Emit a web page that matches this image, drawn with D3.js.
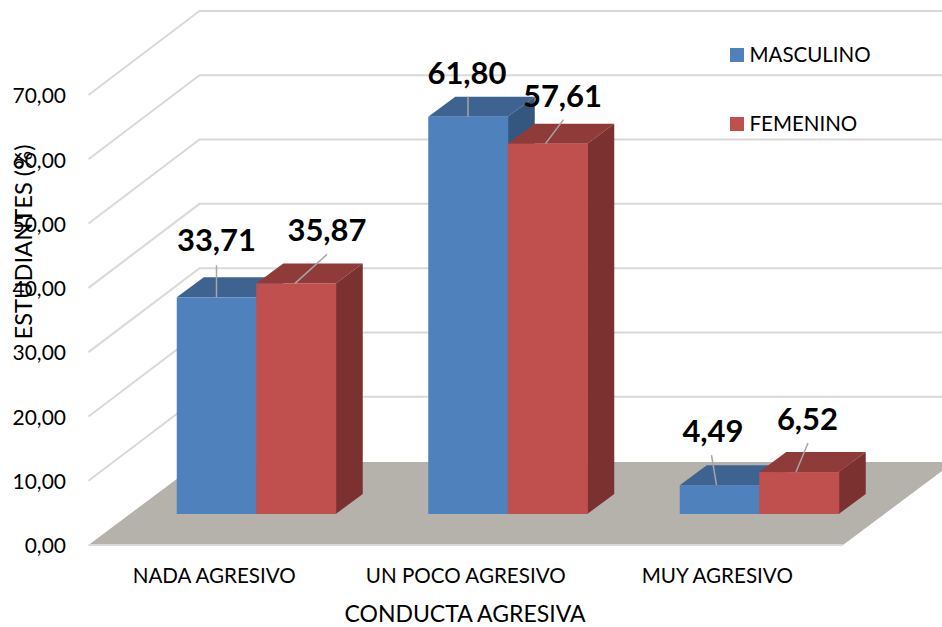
<!DOCTYPE html>
<html><head><meta charset="utf-8">
<script src="https://cdnjs.cloudflare.com/ajax/libs/d3/7.8.5/d3.min.js"></script>
<style>html,body{margin:0;padding:0;background:#fff}svg{display:block}text{font-family:Lato,"Open Sans",sans-serif;fill:#000}</style>
</head><body><svg id="c" width="942" height="627"></svg>
<script>
const categories = ["NADA AGRESIVO", "UN POCO AGRESIVO", "MUY AGRESIVO"];
const seriesNames = ["MASCULINO", "FEMENINO"];
const masculino = [33.71, 61.80, 4.49];
const femenino = [35.87, 57.61, 6.52];
const yTicks = [0, 10, 20, 30, 40, 50, 60, 70];
const xTitle = "CONDUCTA AGRESIVA";
const yTitle = "ESTUDIANTES (%)";

const frontFill = ["#4f81bd", "#c0504d"];
const topFill = ["#3f6391", "#8f3b39"];
const sideFill = ["#34577f", "#7b3130"];
const fmt = v => v.toFixed(2).replace(".", ",");

const svg = d3.select("#c");
const y = d3.scaleLinear().domain([0, 70]).range([545, 95]);
const x = d3.scaleBand().domain(categories).range([88.5, 843]);
const series = d3.scaleBand().domain(seriesNames).range([0, 159]);

// perspective offsets of the 3D box
const wall = {dx: 111, dy: -84};
const depth = {dx: 27, dy: -20};
const barShift = {dx: 42, dy: -31};
const floorY = y(0) + wall.dy + 1;

svg.append("polygon").attr("fill", "#b5b2ab")
  .attr("points", [[x.range()[0], y(0)], [x.range()[1], y(0)], [x.range()[1] + wall.dx, floorY], [x.range()[0] + wall.dx, floorY]].join(" "));

svg.append("g").selectAll("polyline").data(yTicks).join("polyline")
  .attr("fill", "none").attr("stroke", "#d9d9d9").attr("stroke-width", 2)
  .attr("points", d => [[x.range()[0], y(d)], [x.range()[0] + wall.dx, y(d) + wall.dy], [942, y(d) + wall.dy]].join(" "))
  .filter(d => d === 0).attr("points", d => [[x.range()[0], y(d)], [x.range()[1], y(d)]].join(" "));

// bars
const rows = [masculino, femenino];
const baseY = y(0) + barShift.dy;
const h = v => y(0) - y(v);
const bars = [];
rows.forEach((vals, s) => vals.forEach((v, c) => bars.push({s, c, v,
  x0: x(categories[c]) + x.bandwidth() / 2 + barShift.dx - series.range()[1] / 2 + series(seriesNames[s]),
  w: series.bandwidth(), top: baseY - h(v)})));

const gb = svg.append("g");
bars.forEach(b => {
  const g = gb.append("g");
  g.append("polygon").attr("fill", topFill[b.s]).attr("points",
    [[b.x0, b.top], [b.x0 + b.w, b.top], [b.x0 + b.w + depth.dx, b.top + depth.dy], [b.x0 + depth.dx, b.top + depth.dy]].join(" "));
  g.append("polygon").attr("fill", sideFill[b.s]).attr("points",
    [[b.x0 + b.w, b.top], [b.x0 + b.w + depth.dx, b.top + depth.dy], [b.x0 + b.w + depth.dx, baseY + depth.dy], [b.x0 + b.w, baseY]].join(" "));
  g.append("rect").attr("fill", frontFill[b.s]).attr("x", b.x0).attr("y", b.top).attr("width", b.w + 0.5).attr("height", baseY - b.top);
});

// leader lines and value labels, placed relative to each bar's centre and top
const labelOffset = [[[0, -58], [31, -54]], [[-1, -45], [15, -49]], [[-6.5, -55], [8.5, -54]]];
const leaderStart = [[0, -1], [0, -2], [-3, -3]];
const leaderEnd = [[[0, -32], [31, -29]], [[0, -20], [16, -24]], [[-8, -30], [9, -29]]];
const gl = svg.append("g");
bars.forEach(b => {
  const cx = b.x0 + b.w / 2, lo = labelOffset[b.c][b.s], le = leaderEnd[b.c][b.s];
  gl.append("line").attr("x1", cx + leaderStart[b.c][b.s]).attr("y1", b.top).attr("x2", cx + le[0]).attr("y2", b.top + le[1])
    .attr("stroke", "#a6a6a6").attr("stroke-width", 1.5);
  gl.append("text").attr("x", cx + lo[0]).attr("y", b.top + lo[1]).attr("text-anchor", "middle")
    .attr("dominant-baseline", "central").attr("font-size", 31).attr("font-weight", 700).text(fmt(b.v));
});

// axes
const yAxis = svg.append("g").attr("transform", "translate(72,1)")
  .call(d3.axisLeft(y).tickValues(yTicks).tickSize(0).tickPadding(6).tickFormat(fmt));
yAxis.select(".domain").remove();
yAxis.selectAll("text").attr("font-size", 21).attr("font-family", "Lato").style("fill", "#000");

const xAxis = svg.append("g").attr("transform", "translate(0,575)")
  .call(d3.axisBottom(x).tickSize(0).tickPadding(0));
xAxis.select(".domain").remove();
xAxis.selectAll("text").attr("dy", 0).attr("dominant-baseline", "central").attr("font-size", 20.6).attr("font-family", "Lato").style("fill", "#000");

svg.append("text").attr("x", 465).attr("y", 622).attr("text-anchor", "middle").attr("font-size", 23).text(xTitle);
svg.append("text").attr("transform", "translate(23,242) rotate(-90)").attr("text-anchor", "middle").attr("dominant-baseline", "central").attr("font-size", 23.7).text(yTitle);

// legend
const leg = svg.append("g").selectAll("g").data(seriesNames).join("g")
  .attr("transform", (d, i) => `translate(730,${48 + i * 69})`);
leg.append("rect").attr("width", 14).attr("height", 14).attr("fill", (d, i) => frontFill[i]);
leg.append("text").attr("x", 19.5).attr("y", 5.5).attr("dominant-baseline", "central").attr("font-size", 20.5).text(d => d);
</script></body></html>
